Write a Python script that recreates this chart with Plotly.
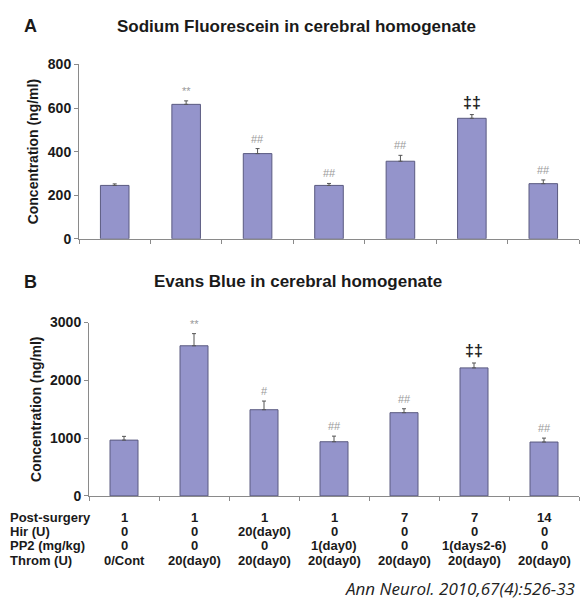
import plotly.graph_objects as go

groups = ["G1", "G2", "G3", "G4", "G5", "G6", "G7"]

# Panel A: Sodium Fluorescein (ng/ml)
fluor_mean = [245, 617, 391, 245, 356, 553, 253]
fluor_err = [7, 16, 23, 9, 27, 17, 17]
fluor_sig = ["", "**", "##", "##", "##", "‡‡", "##"]

# Panel B: Evans Blue (ng/ml)
evans_mean = [965, 2598, 1491, 937, 1440, 2215, 932]
evans_err = [65, 210, 150, 97, 68, 85, 68]
evans_sig = ["", "**", "#", "##", "##", "‡‡", "##"]

row_labels = ["Post-surgery", "Hir (U)", "PP2 (mg/kg)", "Throm (U)"]
post_surgery = ["1", "1", "1", "1", "7", "7", "14"]
hir = ["0", "0", "20(day0)", "0", "0", "0", "0"]
pp2 = ["0", "0", "0", "1(day0)", "0", "1(days2-6)", "0"]
throm = ["0/Cont", "20(day0)", "20(day0)", "20(day0)", "20(day0)", "20(day0)", "20(day0)"]
table_rows = [post_surgery, hir, pp2, throm]

W, H = 582, 611
FONT = "Liberation Sans, Arial, sans-serif"
BAR = "#9494cb"
EDGE = "#5a5a80"
AX = "#8a8a8a"

def px(x):
    return x / W

def py(y):
    return 1 - y / H

fig = go.Figure()

for mean, err, xa, ya in [(fluor_mean, fluor_err, "x", "y"), (evans_mean, evans_err, "x2", "y2")]:
    fig.add_trace(go.Bar(
        x=groups, y=mean, xaxis=xa, yaxis=ya, width=0.4,
        marker=dict(color=BAR, line=dict(color=EDGE, width=1)),
        error_y=dict(type="data", symmetric=False, array=err,
                     arrayminus=[0] * len(err), color="#555555",
                     thickness=1, width=2),
        showlegend=False, hoverinfo="skip",
    ))

axis_common = dict(showline=True, linecolor=AX, linewidth=1, ticks="outside",
                   tickcolor=AX, ticklen=4, showgrid=False, zeroline=False)

fig.update_layout(
    width=W, height=H,
    margin=dict(l=0, r=0, t=0, b=0),
    paper_bgcolor="white", plot_bgcolor="white",
    font=dict(family=FONT, color="#1a1a1a"),
    xaxis=dict(domain=[px(79), px(579)], anchor="y", type="category",
               range=[-0.5, 6.5],
               tickson="boundaries", showticklabels=False, **axis_common),
    yaxis=dict(domain=[py(237), py(58)], anchor="x", range=[0, 800],
               tickvals=[0, 200, 400, 600, 800],
               tickfont=dict(size=14, weight="bold", family=FONT, color="#1a1a1a"),
               title=dict(text="Concentration (ng/ml)", standoff=5,
                          font=dict(size=14, weight="bold", family=FONT, color="#1a1a1a")),
               **axis_common),
    xaxis2=dict(domain=[px(89), px(579)], anchor="y2", type="category",
                range=[-0.5, 6.5],
                tickson="boundaries", showticklabels=False, **axis_common),
    yaxis2=dict(domain=[py(501), py(323)], anchor="x2", range=[0, 3000],
                tickvals=[0, 1000, 2000, 3000],
                tickfont=dict(size=14, weight="bold", family=FONT, color="#1a1a1a"),
                title=dict(text="Concentration (ng/ml)", standoff=5,
                           font=dict(size=14, weight="bold", family=FONT, color="#1a1a1a")),
                **axis_common),
)

ann = []

def paper_text(text, x, y, size, xanchor="center", family=FONT, color="#1a1a1a"):
    ann.append(dict(text=text, x=px(x), y=py(y), xref="paper", yref="paper",
                    xanchor=xanchor, yanchor="middle", showarrow=False,
                    font=dict(size=size, family=family, color=color)))

# Panel letters and titles
paper_text("<b>A</b>", 30, 18, 18)
paper_text("<b>Sodium Fluorescein in cerebral homogenate</b>", 296, 19, 17)
paper_text("<b>B</b>", 30, 281, 18)
paper_text("<b>Evans Blue in cerebral homogenate</b>", 298, 281, 17)

# Significance markers
for sig, mean, err, xr, yr in [(fluor_sig, fluor_mean, fluor_err, "x", "y"),
                               (evans_sig, evans_mean, evans_err, "x2", "y2")]:
    for g, s, m, e in zip(groups, sig, mean, err):
        if not s:
            continue
        if s == "‡‡":
            f = dict(size=16, family=FONT, color="#222222", weight="bold")
        else:
            f = dict(size=11, family=FONT, color="#9a9a9a")
        ann.append(dict(text=s, x=g, y=m + e, xref=xr, yref=yr, xanchor="center",
                        yanchor="bottom", yshift=2, showarrow=False, font=f))

# Treatment table under panel B
row_y = [523, 538, 552, 567]
for lbl, vals, yy in zip(row_labels, table_rows, row_y):
    paper_text("<b>%s</b>" % lbl, 8, yy, 13, xanchor="left")
    for g, v in zip(groups, vals):
        ann.append(dict(text="<b>%s</b>" % v, x=g, y=py(yy), xref="x2", yref="paper",
                        xanchor="center", yanchor="middle", showarrow=False,
                        font=dict(size=13, family=FONT, color="#1a1a1a")))

paper_text("<i>Ann Neurol. 2010,67(4):526-33</i>", 577, 596, 17, xanchor="right",
           family="Open Sans, sans-serif", color="#222222")

fig.update_layout(annotations=ann)
fig.write_html("out.html", config={"displayModeBar": False},
               post_script="document.body.style.margin='0';document.body.style.overflow='hidden';")
